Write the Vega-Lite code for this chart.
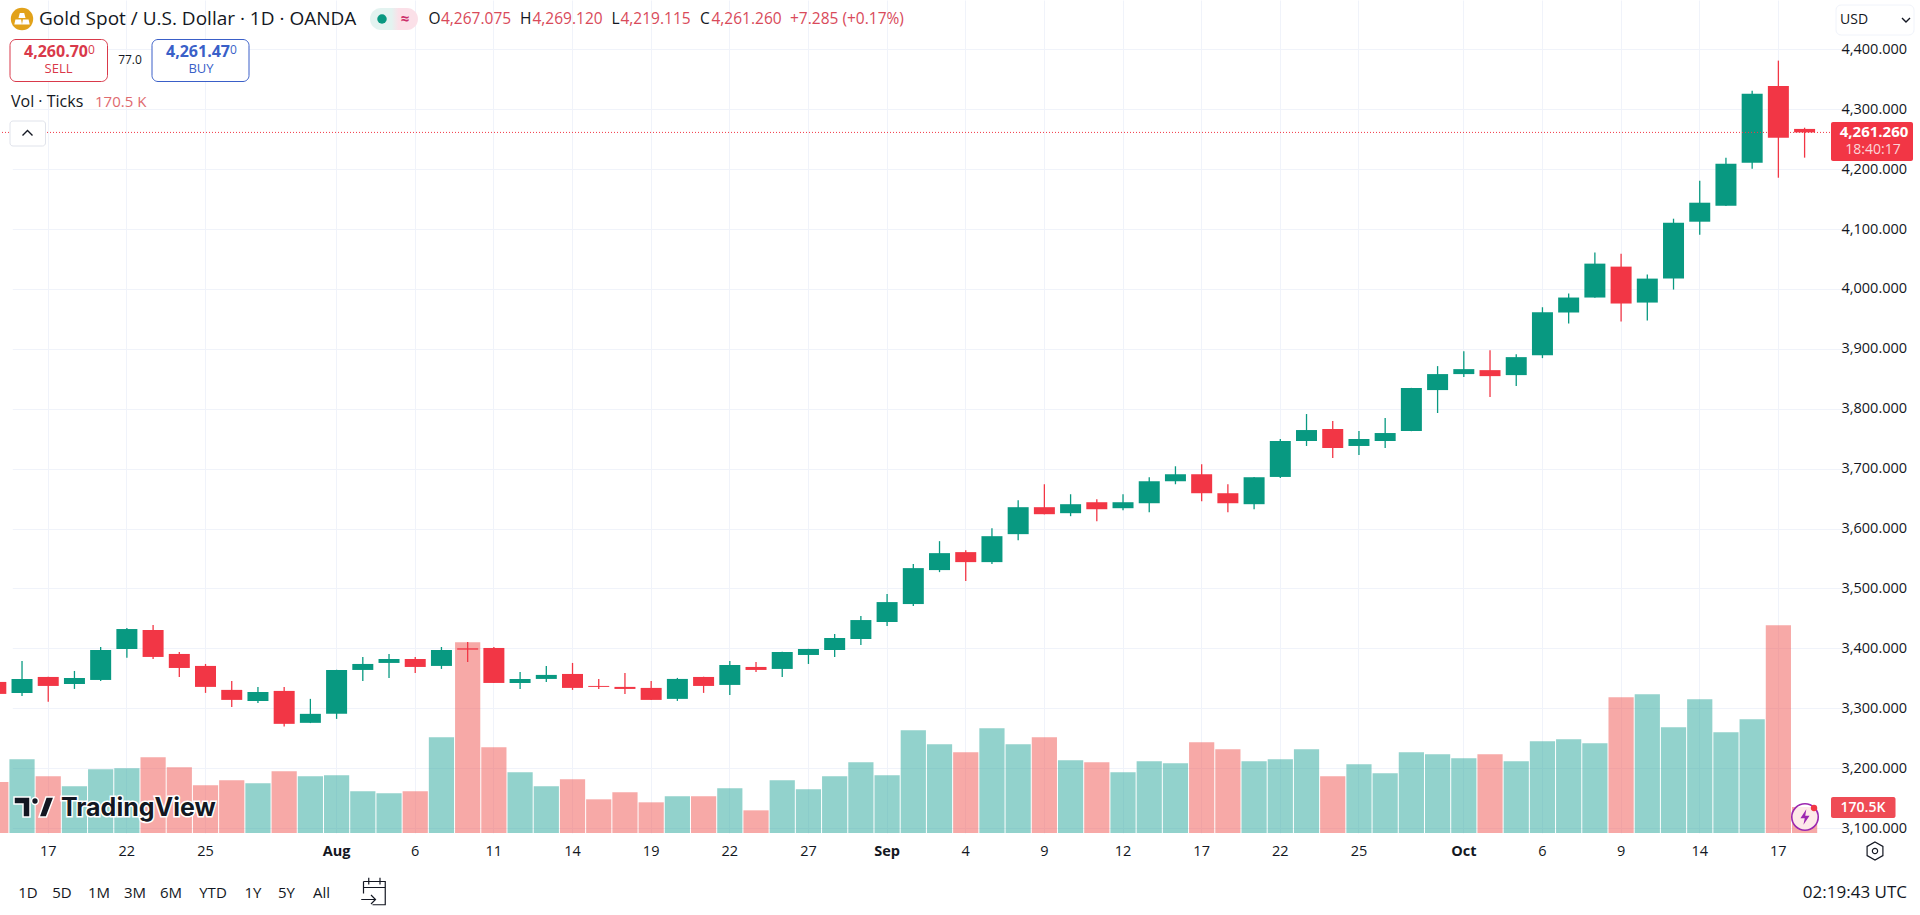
{"$schema":"https://vega.github.io/schema/vega-lite/v6.json","width":1830,"height":833,"padding":{"left":0,"top":0,"right":90,"bottom":82},"autosize":{"type":"none"},"background":"white","config":{"view":{"stroke":null},"text":{"font":"Open Sans","baseline":"middle","align":"left","color":"#131722","fontSize":15},"axis":{"labelFont":"Open Sans","labelFontSize":14.5,"labelColor":"#131722"}},"datasets":{"ohlcv":[
{"date":"2025-07-15","open":3343.9,"high":3347.2,"low":3321.7,"close":3323.9,"volume":334600,"dir":"down"},
{"date":"2025-07-16","open":3325.6,"high":3378.9,"low":3320.6,"close":3348.9,"volume":483300,"dir":"up"},
{"date":"2025-07-17","open":3352.2,"high":3352.6,"low":3310.6,"close":3337.2,"volume":371800,"dir":"down"},
{"date":"2025-07-18","open":3340.6,"high":3362.2,"low":3332.2,"close":3350.6,"volume":306200,"dir":"up"},
{"date":"2025-07-21","open":3347.2,"high":3402.2,"low":3345.6,"close":3397.2,"volume":417700,"dir":"up"},
{"date":"2025-07-22","open":3398.9,"high":3433.9,"low":3384.4,"close":3432.2,"volume":424300,"dir":"up"},
{"date":"2025-07-23","open":3430.6,"high":3438.9,"low":3382.2,"close":3385.6,"volume":496400,"dir":"down"},
{"date":"2025-07-24","open":3390.6,"high":3393.9,"low":3352.2,"close":3367.2,"volume":430800,"dir":"down"},
{"date":"2025-07-25","open":3370.6,"high":3373.9,"low":3325.6,"close":3335.6,"volume":312700,"dir":"down"},
{"date":"2025-07-28","open":3330.6,"high":3345.6,"low":3302.2,"close":3313.9,"volume":345500,"dir":"down"},
{"date":"2025-07-29","open":3312.2,"high":3335.6,"low":3308.9,"close":3327.2,"volume":325900,"dir":"up"},
{"date":"2025-07-30","open":3328.9,"high":3335.6,"low":3269.4,"close":3273.9,"volume":404600,"dir":"down"},
{"date":"2025-07-31","open":3275.6,"high":3315.6,"low":3275.2,"close":3290.6,"volume":371800,"dir":"up"},
{"date":"2025-08-01","open":3290.6,"high":3364.2,"low":3282.2,"close":3363.9,"volume":378400,"dir":"up"},
{"date":"2025-08-04","open":3363.9,"high":3385.6,"low":3345.6,"close":3373.9,"volume":273400,"dir":"up"},
{"date":"2025-08-05","open":3375.6,"high":3390.6,"low":3350.6,"close":3382.2,"volume":260300,"dir":"up"},
{"date":"2025-08-06","open":3382.2,"high":3385.6,"low":3358.9,"close":3368.9,"volume":273400,"dir":"down"},
{"date":"2025-08-07","open":3370.6,"high":3402.2,"low":3365.6,"close":3397.2,"volume":627700,"dir":"up"},
{"date":"2025-08-08","open":3400,"high":3410.6,"low":3377.2,"close":3397.8,"volume":1251000,"dir":"down"},
{"date":"2025-08-11","open":3400.6,"high":3402.2,"low":3342,"close":3342.2,"volume":562100,"dir":"down"},
{"date":"2025-08-12","open":3342.2,"high":3360.6,"low":3332.2,"close":3348.9,"volume":398000,"dir":"up"},
{"date":"2025-08-13","open":3348.9,"high":3370.6,"low":3343.9,"close":3355.6,"volume":306200,"dir":"up"},
{"date":"2025-08-14","open":3357.2,"high":3375.6,"low":3330.6,"close":3333.9,"volume":352100,"dir":"down"},
{"date":"2025-08-15","open":3337.2,"high":3348.9,"low":3332.2,"close":3335.6,"volume":220900,"dir":"down"},
{"date":"2025-08-18","open":3335.6,"high":3358.9,"low":3323.9,"close":3332.2,"volume":266800,"dir":"down"},
{"date":"2025-08-19","open":3333.9,"high":3345.6,"low":3313.6,"close":3313.9,"volume":201200,"dir":"down"},
{"date":"2025-08-20","open":3315.6,"high":3350.6,"low":3312.2,"close":3348.9,"volume":240600,"dir":"up"},
{"date":"2025-08-21","open":3352.2,"high":3352.6,"low":3325.6,"close":3337.2,"volume":240600,"dir":"down"},
{"date":"2025-08-22","open":3338.9,"high":3378.9,"low":3322.2,"close":3372.2,"volume":293100,"dir":"up"},
{"date":"2025-08-25","open":3368.9,"high":3377.2,"low":3360.6,"close":3363.9,"volume":148700,"dir":"down"},
{"date":"2025-08-26","open":3365.6,"high":3394.2,"low":3352.2,"close":3393.9,"volume":345500,"dir":"up"},
{"date":"2025-08-27","open":3388.9,"high":3399.2,"low":3373.9,"close":3398.9,"volume":286500,"dir":"up"},
{"date":"2025-08-28","open":3397.2,"high":3423.9,"low":3385.6,"close":3417.2,"volume":371800,"dir":"up"},
{"date":"2025-08-29","open":3415.6,"high":3453.9,"low":3405.6,"close":3447.2,"volume":463600,"dir":"up"},
{"date":"2025-09-01","open":3443.9,"high":3490.6,"low":3437.2,"close":3477.2,"volume":378400,"dir":"up"},
{"date":"2025-09-02","open":3473.9,"high":3540.6,"low":3470.6,"close":3533.9,"volume":673600,"dir":"up"},
{"date":"2025-09-03","open":3530.6,"high":3578.9,"low":3527.2,"close":3558.9,"volume":581700,"dir":"up"},
{"date":"2025-09-04","open":3560.6,"high":3563.9,"low":3512.2,"close":3543.9,"volume":529300,"dir":"down"},
{"date":"2025-09-05","open":3543.9,"high":3600.6,"low":3540.6,"close":3587.2,"volume":686700,"dir":"up"},
{"date":"2025-09-08","open":3590.6,"high":3647.2,"low":3580.6,"close":3635.6,"volume":581700,"dir":"up"},
{"date":"2025-09-09","open":3635.6,"high":3673.9,"low":3623.6,"close":3623.9,"volume":627700,"dir":"down"},
{"date":"2025-09-10","open":3625.6,"high":3657.2,"low":3620.6,"close":3640.6,"volume":476800,"dir":"up"},
{"date":"2025-09-11","open":3643.9,"high":3648.9,"low":3612.2,"close":3632.2,"volume":463600,"dir":"down"},
{"date":"2025-09-12","open":3633.9,"high":3657.2,"low":3630.6,"close":3643.9,"volume":398000,"dir":"up"},
{"date":"2025-09-15","open":3642.2,"high":3685.6,"low":3627.2,"close":3678.9,"volume":470200,"dir":"up"},
{"date":"2025-09-16","open":3678.9,"high":3703.9,"low":3673.9,"close":3690.6,"volume":457100,"dir":"up"},
{"date":"2025-09-17","open":3690.6,"high":3707.2,"low":3645.6,"close":3658.9,"volume":594900,"dir":"down"},
{"date":"2025-09-18","open":3658.9,"high":3673.9,"low":3627.2,"close":3642.2,"volume":548900,"dir":"down"},
{"date":"2025-09-19","open":3640.6,"high":3686,"low":3632.2,"close":3685.6,"volume":470200,"dir":"up"},
{"date":"2025-09-22","open":3686.1,"high":3749.4,"low":3684.4,"close":3746.1,"volume":483300,"dir":"up"},
{"date":"2025-09-23","open":3746.1,"high":3791.1,"low":3737.8,"close":3764.4,"volume":548900,"dir":"up"},
{"date":"2025-09-24","open":3766.1,"high":3779.4,"low":3717.8,"close":3734.4,"volume":371800,"dir":"down"},
{"date":"2025-09-25","open":3737.8,"high":3762.8,"low":3722.8,"close":3749.4,"volume":450500,"dir":"up"},
{"date":"2025-09-26","open":3746.1,"high":3784.4,"low":3734.4,"close":3759.4,"volume":391500,"dir":"up"},
{"date":"2025-09-29","open":3762.8,"high":3834.8,"low":3762.5,"close":3834.4,"volume":529300,"dir":"up"},
{"date":"2025-09-30","open":3831.1,"high":3871.1,"low":3792.8,"close":3857.8,"volume":516100,"dir":"up"},
{"date":"2025-10-01","open":3857.8,"high":3896.1,"low":3852.8,"close":3866.1,"volume":489900,"dir":"up"},
{"date":"2025-10-02","open":3864.4,"high":3897.8,"low":3819.4,"close":3854.4,"volume":516100,"dir":"down"},
{"date":"2025-10-03","open":3856.1,"high":3891.1,"low":3837.8,"close":3886.1,"volume":470200,"dir":"up"},
{"date":"2025-10-06","open":3889.4,"high":3969.4,"low":3884.4,"close":3961.1,"volume":601400,"dir":"up"},
{"date":"2025-10-07","open":3960.6,"high":3992.2,"low":3942.2,"close":3985.6,"volume":614500,"dir":"up"},
{"date":"2025-10-08","open":3985.6,"high":4060.6,"low":3985.2,"close":4042.2,"volume":588300,"dir":"up"},
{"date":"2025-10-09","open":4037.2,"high":4058.9,"low":3945.6,"close":3975.6,"volume":890100,"dir":"down"},
{"date":"2025-10-10","open":3977.2,"high":4023.9,"low":3947.2,"close":4017.2,"volume":909800,"dir":"up"},
{"date":"2025-10-13","open":4017.2,"high":4117.2,"low":3998.9,"close":4110.6,"volume":693300,"dir":"up"},
{"date":"2025-10-14","open":4112.2,"high":4180.6,"low":4090.6,"close":4143.9,"volume":877000,"dir":"up"},
{"date":"2025-10-15","open":4138.9,"high":4218.9,"low":4138.6,"close":4208.9,"volume":660500,"dir":"up"},
{"date":"2025-10-16","open":4210.6,"high":4330.6,"low":4200.6,"close":4325.6,"volume":745800,"dir":"up"},
{"date":"2025-10-17","open":4338.9,"high":4381.1,"low":4185.6,"close":4252.2,"volume":1362500,"dir":"down"},
{"date":"2025-10-20","open":4267.075,"high":4269.12,"low":4219.115,"close":4261.26,"volume":170500,"dir":"down"}
]},
"resolve":{"scale":{"y":"independent"}},
"layer":[
{"data":{"name":"ohlcv"},"mark":{"type":"bar","width":25.2,"clip":true,"opacity":0.5},"encoding":{
"x":{"field":"date","type":"ordinal","title":null,"scale":{"type":"band","range":[-17.3,1817.7],"paddingInner":0,"paddingOuter":0},"axis":{"values":["2025-07-17","2025-07-22","2025-07-25","2025-08-01","2025-08-06","2025-08-11","2025-08-14","2025-08-19","2025-08-22","2025-08-27","2025-09-01","2025-09-04","2025-09-09","2025-09-12","2025-09-17","2025-09-22","2025-09-25","2025-10-01","2025-10-06","2025-10-09","2025-10-14","2025-10-17"],"labelExpr":"substring(datum.value,8,10)=='01'?{'08':'Aug','09':'Sep','10':'Oct'}[substring(datum.value,5,7)]:''+toNumber(substring(datum.value,8,10))","labelFontWeight":{"condition":{"test":"substring(datum.value,8,10)=='01'","value":700},"value":400},"labelAngle":0,"labelPadding":11,"labelOverlap":false,"domain":false,"ticks":false,"grid":true,"gridColor":"#F0F3FA","gridWidth":1,"zindex":0}},
"y":{"field":"volume","type":"quantitative","stack":null,"scale":{"domain":[0,5464000]},"axis":null},
"color":{"condition":{"test":"datum.dir=='up'","value":"#26A69A"},"value":"#EF5350"}}},
{"data":{"name":"ohlcv"},"mark":{"type":"rule","clip":true,"strokeWidth":1.3},"encoding":{
"x":{"field":"date","type":"ordinal"},
"y":{"field":"low","type":"quantitative","title":null,"scale":{"domain":[3091.7,4482.3],"nice":false,"zero":false},"axis":{"orient":"right","values":[3100,3200,3300,3400,3500,3600,3700,3800,3900,4000,4100,4200,4300,4400],"format":",.3f","labelPadding":11,"domain":false,"ticks":false,"grid":true,"gridColor":"#F0F3FA","gridWidth":1,"zindex":0,"title":null}},
"y2":{"field":"high"},
"color":{"field":"dir","type":"nominal","legend":null,"scale":{"domain":["up","down"],"range":["#089981","#F23645"]}}}},
{"data":{"name":"ohlcv"},"mark":{"type":"bar","width":21,"clip":true},"encoding":{
"x":{"field":"date","type":"ordinal"},
"y":{"field":"open","type":"quantitative","scale":{"domain":[3091.7,4482.3],"nice":false,"zero":false},"axis":null},
"y2":{"field":"close"},
"color":{"field":"dir","type":"nominal","legend":null}}},
{"data":{"values":[{"price":4261.26}]},"mark":{"type":"rule","color":"#F23645","strokeDash":[1,2],"strokeWidth":1},"encoding":{"y":{"field":"price","type":"quantitative","scale":{"domain":[3091.7,4482.3],"nice":false,"zero":false},"axis":null}}},
{"data":{"values":[{"k":1}]},"mark":{"type":"rule","color":"#E0E3EB","x":0,"x2":1920,"y":868,"y2":868,"clip":false},"encoding":{}},
{"data":{"values":[{"k":1}]},"mark":{"type":"rule","color":"#E0E3EB","x":345,"x2":345,"y":880,"y2":910,"clip":false},"encoding":{}},
{"data":{"values":[{"k":1}]},"mark":{"type":"rect","x":1831,"x2":1913,"y":122,"y2":161,"fill":"#F23645","cornerRadius":2},"encoding":{}},
{"data":{"values":[{"k":1}]},"mark":{"type":"rect","x":1831,"x2":1895.5,"y":797,"y2":818,"fill":"#EF4B55","cornerRadius":2},"encoding":{}},
{"data":{"values":[{"k":1}]},"mark":{"type":"rect","x":10,"x2":107.5,"y":39.5,"y2":81.5,"fill":"white","stroke":"#D9394A","cornerRadius":6},"encoding":{}},
{"data":{"values":[{"k":1}]},"mark":{"type":"rect","x":152,"x2":249,"y":39.5,"y2":81.5,"fill":"white","stroke":"#3A5FC8","cornerRadius":6},"encoding":{}},
{"data":{"values":[{"k":1}]},"mark":{"type":"rect","x":10,"x2":45.5,"y":121,"y2":146,"fill":"white","stroke":"#E0E3EB","cornerRadius":3},"encoding":{}},
{"data":{"values":[{"k":1}]},"mark":{"type":"rect","x":1836,"x2":1914,"y":5,"y2":35,"fill":"white","stroke":"#F0F3FA","cornerRadius":5},"encoding":{}},
{"data":{"values":[{"k":1}]},"mark":{"type":"rect","x":370,"x2":418,"y":8,"y2":30,"cornerRadius":11,"fill":{"gradient":"linear","x1":0,"x2":1,"y1":0,"y2":0,"stops":[{"offset":0,"color":"#E3F3F0"},{"offset":0.45,"color":"#E3F3F0"},{"offset":0.6,"color":"#FBE0E8"},{"offset":1,"color":"#FBE0E8"}]}},"encoding":{}},
{"data":{"values":[{"k":1}]},"mark":{"type":"point","shape":"circle","x":382,"y":19,"size":90,"filled":true,"color":"#089981","opacity":1},"encoding":{}},
{"data":{"values":[{"k":1}]},"mark":{"type":"point","shape":"circle","x":22,"y":19,"size":500,"filled":true,"color":"#E2A21A","opacity":1},"encoding":{}},
{"data":{"values":[{"k":1}]},"mark":{"type":"point","shape":"M-.2,-.55H.2L.32,-.1H-.32ZM-.6,.05H-.08L0,.5H-.7ZM.08,.05H.6L.7,.5H0Z","x":22,"y":19,"size":484,"filled":true,"color":"white","opacity":1},"encoding":{}},
{"data":{"values":[{"k":1}]},"mark":{"type":"point","shape":"M-1,.5L0,-.5L1,.5","x":27.5,"y":133,"size":100,"filled":false,"color":"#131722","strokeWidth":1.4,"opacity":1},"encoding":{}},
{"data":{"values":[{"k":1}]},"mark":{"type":"point","shape":"M-1,-.5L0,.5L1,-.5","x":1906,"y":20,"size":64,"filled":false,"color":"#131722","strokeWidth":1.4,"opacity":1},"encoding":{}},
{"data":{"values":[{"k":1}]},"mark":{"type":"point","shape":"M0,-1L.87,-.5L.87,.5L0,1L-.87,.5L-.87,-.5Z","x":1875,"y":851,"size":330,"filled":false,"color":"#131722","strokeWidth":1.2,"opacity":1},"encoding":{}},
{"data":{"values":[{"k":1}]},"mark":{"type":"point","shape":"circle","x":1875,"y":851,"size":28,"filled":false,"color":"#131722","strokeWidth":1.2,"opacity":1},"encoding":{}},
{"data":{"values":[{"k":1}]},"mark":{"type":"point","shape":"M-.7,-.7H.75V.85H-.1M-.7,-.7V.1M-.7,-.3H.75M-.35,-.95V-.5M.4,-.95V-.5M-.85,.5H.1M-.2,.2L.1,.5L-.2,.8","x":374,"y":892,"size":900,"filled":false,"color":"#131722","strokeWidth":1.2,"opacity":1},"encoding":{}},
{"data":{"values":[{"k":1}]},"mark":{"type":"point","shape":"circle","x":1805,"y":817,"size":700,"filled":false,"fill":"white","fillOpacity":0.75,"stroke":"#9C27B0","strokeWidth":1.6,"opacity":1},"encoding":{}},
{"data":{"values":[{"k":1}]},"mark":{"type":"point","shape":"M.1,-.6L-.35,.1H-.02L-.12,.6L.35,-.1H.02Z","x":1805,"y":817,"size":676,"filled":true,"color":"#9C27B0","opacity":1},"encoding":{}},
{"data":{"values":[{"k":1}]},"mark":{"type":"point","shape":"circle","x":1814,"y":808,"size":40,"filled":true,"color":"#F23645","opacity":1},"encoding":{}},
{"data":{"values":[{"k":1}]},"mark":{"type":"point","shape":"M-1,-.5H-.2V.5H-.55V-.15H-1ZM.22,-.3A.17,.17 0 1 1 -.12,-.3A.17,.17 0 1 1 .22,-.3ZM.25,.5L.6,-.5H1L.62,.5Z","x":34,"y":807,"size":1600,"filled":true,"fill":"#131722","stroke":"white","strokeWidth":1.5,"opacity":1},"encoding":{}},
{"data":{"values":[{"t":"TradingView"}]},"mark":{"type":"text","x":61,"y":808,"font":"Inter","fontSize":25,"fontWeight":700,"stroke":"white","strokeWidth":3,"color":"white"},"encoding":{"text":{"field":"t"}}},
{"data":{"values":[{"t":"TradingView"}]},"mark":{"type":"text","x":61,"y":808,"font":"Inter","fontSize":25,"fontWeight":700,"color":"#131722"},"encoding":{"text":{"field":"t"}}},
{"data":{"values":[{"t":"Gold Spot / U.S. Dollar · 1D · OANDA"}]},"mark":{"type":"text","x":39,"y":19,"fontSize":19,"fontWeight":500},"encoding":{"text":{"field":"t"}}},
{"data":{"values":[{"t":"≈"}]},"mark":{"type":"text","x":405,"y":19,"align":"center","fontSize":15,"fontWeight":700,"color":"#CC2F6B"},"encoding":{"text":{"field":"t"}}},
{"data":{"values":[{"t":"O"}]},"mark":{"type":"text","x":428.5,"y":19,"fontSize":15.5},"encoding":{"text":{"field":"t"}}},
{"data":{"values":[{"t":"4,267.075"}]},"mark":{"type":"text","x":441,"y":19,"fontSize":15.5,"color":"#D94A5A"},"encoding":{"text":{"field":"t"}}},
{"data":{"values":[{"t":"H"}]},"mark":{"type":"text","x":520,"y":19,"fontSize":15.5},"encoding":{"text":{"field":"t"}}},
{"data":{"values":[{"t":"4,269.120"}]},"mark":{"type":"text","x":532.5,"y":19,"fontSize":15.5,"color":"#D94A5A"},"encoding":{"text":{"field":"t"}}},
{"data":{"values":[{"t":"L"}]},"mark":{"type":"text","x":611.5,"y":19,"fontSize":15.5},"encoding":{"text":{"field":"t"}}},
{"data":{"values":[{"t":"4,219.115"}]},"mark":{"type":"text","x":620.5,"y":19,"fontSize":15.5,"color":"#D94A5A"},"encoding":{"text":{"field":"t"}}},
{"data":{"values":[{"t":"C"}]},"mark":{"type":"text","x":700,"y":19,"fontSize":15.5},"encoding":{"text":{"field":"t"}}},
{"data":{"values":[{"t":"4,261.260"}]},"mark":{"type":"text","x":711.5,"y":19,"fontSize":15.5,"color":"#D94A5A"},"encoding":{"text":{"field":"t"}}},
{"data":{"values":[{"t":"+7.285 (+0.17%)"}]},"mark":{"type":"text","x":790,"y":19,"fontSize":15.5,"color":"#D94A5A"},"encoding":{"text":{"field":"t"}}},
{"data":{"values":[{"t":"4,260.70"}]},"mark":{"type":"text","x":24,"y":52,"fontSize":16,"fontWeight":700,"color":"#D9394A"},"encoding":{"text":{"field":"t"}}},
{"data":{"values":[{"t":"0"}]},"mark":{"type":"text","x":88,"y":50,"fontSize":12,"color":"#D9394A"},"encoding":{"text":{"field":"t"}}},
{"data":{"values":[{"t":"SELL"}]},"mark":{"type":"text","x":58.5,"y":69,"align":"center","fontSize":13,"color":"#D9394A"},"encoding":{"text":{"field":"t"}}},
{"data":{"values":[{"t":"77.0"}]},"mark":{"type":"text","x":130,"y":60,"align":"center","fontSize":12},"encoding":{"text":{"field":"t"}}},
{"data":{"values":[{"t":"4,261.47"}]},"mark":{"type":"text","x":166,"y":52,"fontSize":16,"fontWeight":700,"color":"#3A5FC8"},"encoding":{"text":{"field":"t"}}},
{"data":{"values":[{"t":"0"}]},"mark":{"type":"text","x":230,"y":50,"fontSize":12,"color":"#3A5FC8"},"encoding":{"text":{"field":"t"}}},
{"data":{"values":[{"t":"BUY"}]},"mark":{"type":"text","x":201,"y":69,"align":"center","fontSize":13,"color":"#3A5FC8"},"encoding":{"text":{"field":"t"}}},
{"data":{"values":[{"t":"Vol · Ticks"}]},"mark":{"type":"text","x":11,"y":102,"fontSize":16},"encoding":{"text":{"field":"t"}}},
{"data":{"values":[{"t":"170.5 K"}]},"mark":{"type":"text","x":95,"y":102,"fontSize":15,"color":"#E06A6F"},"encoding":{"text":{"field":"t"}}},
{"data":{"values":[{"t":"USD"}]},"mark":{"type":"text","x":1840,"y":20,"fontSize":14},"encoding":{"text":{"field":"t"}}},
{"data":{"values":[{"t":"4,261.260"}]},"mark":{"type":"text","x":1874,"y":132,"align":"center","fontSize":15,"fontWeight":700,"color":"white"},"encoding":{"text":{"field":"t"}}},
{"data":{"values":[{"t":"18:40:17"}]},"mark":{"type":"text","x":1873,"y":150,"align":"center","fontSize":14,"color":"#FBD5D8"},"encoding":{"text":{"field":"t"}}},
{"data":{"values":[{"t":"170.5K"}]},"mark":{"type":"text","x":1863,"y":807.5,"align":"center","fontSize":14,"fontWeight":600,"color":"white"},"encoding":{"text":{"field":"t"}}},
{"data":{"values":[{"t":"1D"}]},"mark":{"type":"text","x":28,"y":893,"align":"center"},"encoding":{"text":{"field":"t"}}},
{"data":{"values":[{"t":"5D"}]},"mark":{"type":"text","x":62,"y":893,"align":"center"},"encoding":{"text":{"field":"t"}}},
{"data":{"values":[{"t":"1M"}]},"mark":{"type":"text","x":99,"y":893,"align":"center"},"encoding":{"text":{"field":"t"}}},
{"data":{"values":[{"t":"3M"}]},"mark":{"type":"text","x":135,"y":893,"align":"center"},"encoding":{"text":{"field":"t"}}},
{"data":{"values":[{"t":"6M"}]},"mark":{"type":"text","x":171,"y":893,"align":"center"},"encoding":{"text":{"field":"t"}}},
{"data":{"values":[{"t":"YTD"}]},"mark":{"type":"text","x":213,"y":893,"align":"center"},"encoding":{"text":{"field":"t"}}},
{"data":{"values":[{"t":"1Y"}]},"mark":{"type":"text","x":253,"y":893,"align":"center"},"encoding":{"text":{"field":"t"}}},
{"data":{"values":[{"t":"5Y"}]},"mark":{"type":"text","x":286.5,"y":893,"align":"center"},"encoding":{"text":{"field":"t"}}},
{"data":{"values":[{"t":"All"}]},"mark":{"type":"text","x":321.5,"y":893,"align":"center"},"encoding":{"text":{"field":"t"}}},
{"data":{"values":[{"t":"02:19:43 UTC"}]},"mark":{"type":"text","x":1907,"y":893,"align":"right","fontSize":17},"encoding":{"text":{"field":"t"}}}
]}
